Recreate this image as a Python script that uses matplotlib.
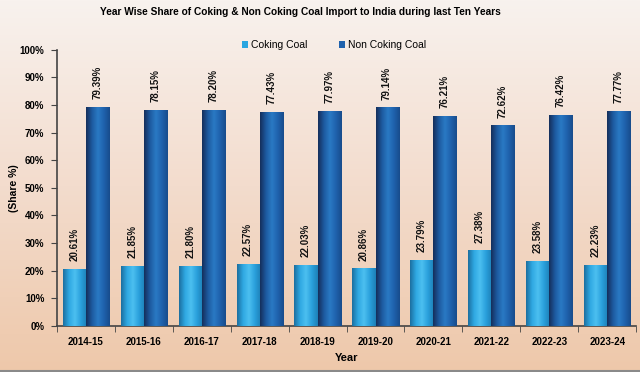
"""Year wise share of coking & non coking coal import to India."""

import numpy as np
import matplotlib
matplotlib.use('Agg')
import matplotlib.pyplot as plt
from matplotlib.colors import LinearSegmentedColormap
from matplotlib.ticker import PercentFormatter, FixedLocator

years = ["2014-15", "2015-16", "2016-17", "2017-18", "2018-19",
         "2019-20", "2020-21", "2021-22", "2022-23", "2023-24"]
coking = [20.61, 21.85, 21.80, 22.57, 22.03, 20.86, 23.79, 27.38, 23.58, 22.23]
non_coking = [79.39, 78.15, 78.20, 77.43, 77.97, 79.14, 76.21, 72.62, 76.42, 77.77]

plt.rcParams['font.family'] = ['Liberation Sans', 'DejaVu Sans']

fig = plt.figure(figsize=(6.4, 3.72), dpi=100)

# background gradient over the whole figure
bg = fig.add_axes([0, 0, 1, 1], zorder=-10)
bg_cmap = LinearSegmentedColormap.from_list("bg", ["#f8f2ee", "#f3dccd", "#eec8aa"])
bg.imshow(np.linspace(0, 1, 256).reshape(-1, 1), aspect='auto', cmap=bg_cmap,
          extent=[0, 1, 0, 1], origin='upper')
bg.axhline(0.004, color="#8a8a8a", lw=1.5)
bg.set_xlim(0, 1)
bg.set_ylim(0, 1)
bg.set_axis_off()

ax = fig.add_axes([0.089, 0.124, 0.905, 0.742])
ax.patch.set_alpha(0)

x = np.arange(len(years))
w = 0.4
b1 = ax.bar(x - w / 2, coking, w, color="#2aa6e0", label="Coking Coal", zorder=2)
b2 = ax.bar(x + w / 2, non_coking, w, color="#1f62ad", label="Non Coking Coal", zorder=2)

# cylinder-like shading on the bars
cm1 = LinearSegmentedColormap.from_list("c1", ["#1c6fa0", "#2fa8e2", "#4cc0f0", "#2aa0dc", "#1d80b8"])
cm2 = LinearSegmentedColormap.from_list("c2", ["#152f5c", "#1d5aa0", "#2a7ac4", "#1f62ad", "#184c8c"])
grad = np.linspace(0, 1, 64).reshape(1, -1)
for bars, cm in ((b1, cm1), (b2, cm2)):
    for r in bars:
        x0, y0 = r.get_x(), r.get_y()
        im = ax.imshow(grad, aspect='auto', cmap=cm, zorder=3,
                       extent=[x0, x0 + r.get_width(), y0, y0 + r.get_height()])
        im.set_clip_path(r)

for bars, vals in ((b1, coking), (b2, non_coking)):
    for r, v in zip(bars, vals):
        ax.text(r.get_x() + r.get_width() / 2, v + 2.8, f"{v:.2f}%",
                rotation=90, ha='center', va='bottom', fontsize=7,
                fontweight='bold', color="#111111", zorder=4)

ax.set_xlim(-0.5, len(years) - 0.5)
ax.set_ylim(0, 100)
ax.set_yticks(np.arange(0, 101, 10))
ax.yaxis.set_major_formatter(PercentFormatter(decimals=0))
ax.set_xticks(x)
ax.set_xticklabels(years)
ax.xaxis.set_minor_locator(FixedLocator(np.arange(-0.5, len(years), 1)))
ax.tick_params(axis='x', which='major', length=0, pad=8)
ax.tick_params(axis='x', which='minor', length=4, direction='out', color="#444444")
ax.tick_params(axis='y', length=4, direction='out', color="#444444", pad=5)
for lbl in ax.get_xticklabels() + ax.get_yticklabels():
    lbl.set_fontsize(7)
    lbl.set_fontweight('bold')

for s in ("top", "right"):
    ax.spines[s].set_visible(False)
for s in ("left", "bottom"):
    ax.spines[s].set_color("#444444")
    ax.spines[s].set_linewidth(1.2)

ax.set_ylabel("(Share %)", fontsize=7.5, fontweight='bold')
ax.yaxis.set_label_coords(-0.066, 0.5)
ax.set_xlabel("Year", fontsize=8, fontweight='bold', labelpad=4)

fig.text(0.469, 0.967, "Year Wise Share of Coking & Non Coking Coal Import to India during last Ten Years",
         ha='center', va='center', fontsize=7.3, fontweight='bold')

ax.legend(loc='upper center', bbox_to_anchor=(0.478, 1.07), ncol=2, frameon=False,
          fontsize=7.5, handlelength=0.6, handleheight=0.6, columnspacing=3.0,
          handletextpad=0.3)

fig.savefig("out.png", dpi=100)
